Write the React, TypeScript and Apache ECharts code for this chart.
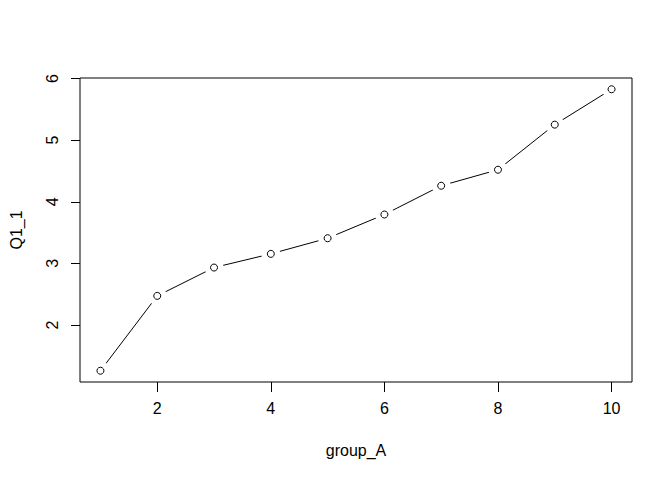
import React, { useEffect, useRef } from "react";
import * as echarts from "echarts";

const xValues = [1, 2, 3, 4, 5, 6, 7, 8, 9, 10];
const yValues = [1.257, 2.472, 2.932, 3.154, 3.408, 3.793, 4.26, 4.52, 5.252, 5.826];
const xTicks = [2, 4, 6, 8, 10];
const yTicks = [2, 3, 4, 5, 6];

const FONT = "'Liberation Sans', Arial, sans-serif";

export default function App() {
  const ref = useRef<HTMLDivElement>(null);
  useEffect(() => {
    document.body.style.margin = "0";
    const chart = echarts.init(ref.current!, null, { renderer: "svg" });
    const pts = xValues.map((x, i) => [x, yValues[i]]);
    chart.setOption({
      animation: false,
      backgroundColor: "#ffffff",
      grid: {
        left: 78,
        top: 78,
        width: 554,
        height: 304,
        show: true,
        borderColor: "#000",
        borderWidth: 1,
        backgroundColor: "transparent",
      },
      xAxis: {
        type: "value",
        min: 0.64,
        max: 10.36,
        name: "group_A",
        nameLocation: "middle",
        nameGap: 60,
        nameTextStyle: { fontFamily: FONT, fontSize: 16, color: "#000" },
        axisLine: { show: false },
        splitLine: { show: false },
        axisTick: { show: true, inside: false, length: 10, customValues: xTicks, lineStyle: { color: "#000" } },
        axisLabel: { customValues: xTicks, margin: 18, fontFamily: FONT, fontSize: 16, color: "#000" },
      },
      yAxis: {
        type: "value",
        min: 1.074,
        max: 6.009,
        name: "Q1_1",
        nameLocation: "middle",
        nameGap: 56,
        nameRotate: 90,
        nameTextStyle: { fontFamily: FONT, fontSize: 16, color: "#000" },
        axisLine: { show: false },
        splitLine: { show: false },
        axisTick: { show: true, inside: false, length: 9, customValues: yTicks, lineStyle: { color: "#000" } },
        axisLabel: { customValues: yTicks, rotate: 90, margin: 20, fontFamily: FONT, fontSize: 16, color: "#000" },
      },
      series: [
        {
          type: "line",
          data: pts,
          z: 1,
          showSymbol: false,
          symbol: "none",
          lineStyle: { color: "#000", width: 1 },
          silent: true,
        },
        {
          type: "scatter",
          data: pts,
          z: 5,
          symbol: "circle",
          symbolSize: 19,
          itemStyle: { color: "#ffffff", borderWidth: 0, opacity: 1 },
          silent: true,
        },
        {
          type: "scatter",
          data: pts,
          z: 6,
          symbol: "circle",
          symbolSize: 7,
          itemStyle: { color: "#ffffff", borderColor: "#000", borderWidth: 1, opacity: 1 },
          silent: true,
        },
      ],
    });
    return () => chart.dispose();
  }, []);
  return <div ref={ref} style={{ width: 672, height: 480 }} />;
}
